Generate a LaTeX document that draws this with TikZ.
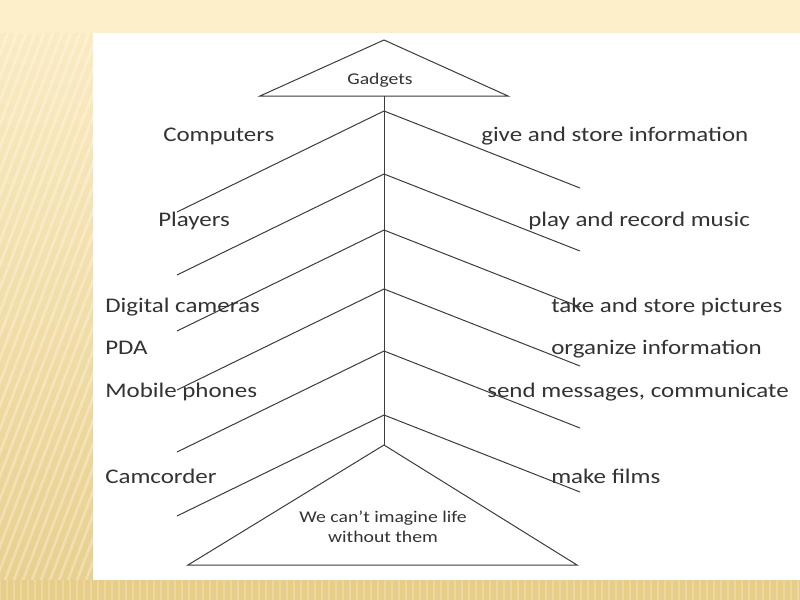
\documentclass[tikz,border=0pt]{standalone}
\usepackage{fontspec}
\setmainfont{Carlito}
\usepackage{graphicx}
\definecolor{cream}{HTML}{FCEFC9}
\definecolor{creamtop}{HTML}{FBEBC2}
\definecolor{goldlow}{HTML}{E8D08E}
\definecolor{gold}{HTML}{E6CD88}
\definecolor{inkgray}{HTML}{333333}
\definecolor{linegray}{HTML}{3C3C3C}
\newcommand\wide[1]{\scalebox{1.2}[1]{#1}}
\tikzset{
  item/.style={anchor=base west, inner sep=0pt, text=inkgray, font=\fontsize{15.6}{18}\selectfont},
  small/.style={inner sep=0pt, text=inkgray, font=\fontsize{12.3}{15}\selectfont, align=center},
  branch/.style={draw=linegray, line width=0.75pt},
  stripe/.style={draw=white, opacity=0.3, line width=2pt}
}

\begin{document}
\begin{tikzpicture}[x=0.75pt, y=-0.75pt]
  \useasboundingbox (0,0) rectangle (800,600);
  % slide background
  \fill[cream] (0,0) rectangle (800,600);
  \shade[top color=creamtop, bottom color=goldlow] (0,33) rectangle (93,580);
  \begin{scope}
    \clip (0,33) rectangle (93,580);
    \foreach \s in {-220,-211,...,100}
      \draw[stripe] (\s,580) -- (\s+210,33);
  \end{scope}
  \fill[gold] (0,580) rectangle (800,600);
  \foreach \s in {0,7,...,800}
    \draw[stripe, opacity=0.2, line width=1.5pt] (\s,580) -- (\s,600);
  \fill[white] (93,33) rectangle (800,580);

  % triangles and trunk
  \coordinate (topapex) at (384,40);
  \coordinate (topleft) at (260,96);
  \coordinate (topright) at (508,96);
  \coordinate (trunktop) at (384,96);
  \coordinate (botapex) at (384,445);
  \coordinate (botleft) at (188,565);
  \coordinate (botright) at (577,565);
  \draw[branch] (topleft) -- (topapex) -- (topright) -- cycle;
  \draw[branch] (botleft) -- (botapex) -- (botright) -- cycle;
  \draw[branch] (trunktop) -- (botapex);

  % branches
  \foreach \y [count=\i] in {111,174,230,289,351,415} {
    \coordinate (fork\i) at (384,\y);
    \coordinate (left\i) at (177,\y+101);
    \coordinate (right\i) at (580,\y+77);
    \draw[branch] (left\i) -- (fork\i) -- (right\i);
  }

  \node[small, anchor=base] (gadgets) at (380,84) {\wide{Gadgets}};
  \node[small, anchor=base] (life) at (383,522) {\wide{We can’t imagine life}};
  \node[small, anchor=base] (without) at (383,542) {\wide{without them}};

  % devices
  \node[item] (computers) at (163,141) {\wide{Computers}};
  \node[item] (players) at (158,226) {\wide{Players}};
  \node[item] (cameras) at (105,312) {\wide{Digital cameras}};
  \node[item] (pda) at (105,354) {\wide{PDA}};
  \node[item] (phones) at (105,397) {\wide{Mobile phones}};
  \node[item] (camcorder) at (105,483) {\wide{Camcorder}};

  % what they do
  \node[item] (store) at (481,141) {\wide{give and store information}};
  \node[item] (music) at (528,226) {\wide{play and record music}};
  \node[item] (pictures) at (551,312) {\wide{take and store pictures}};
  \node[item] (organize) at (551,354) {\wide{organize information}};
  \node[item] (messages) at (487,397) {\wide{send messages, communicate}};
  \node[item] (films) at (551,483) {\wide{make films}};
\end{tikzpicture}
\end{document}
